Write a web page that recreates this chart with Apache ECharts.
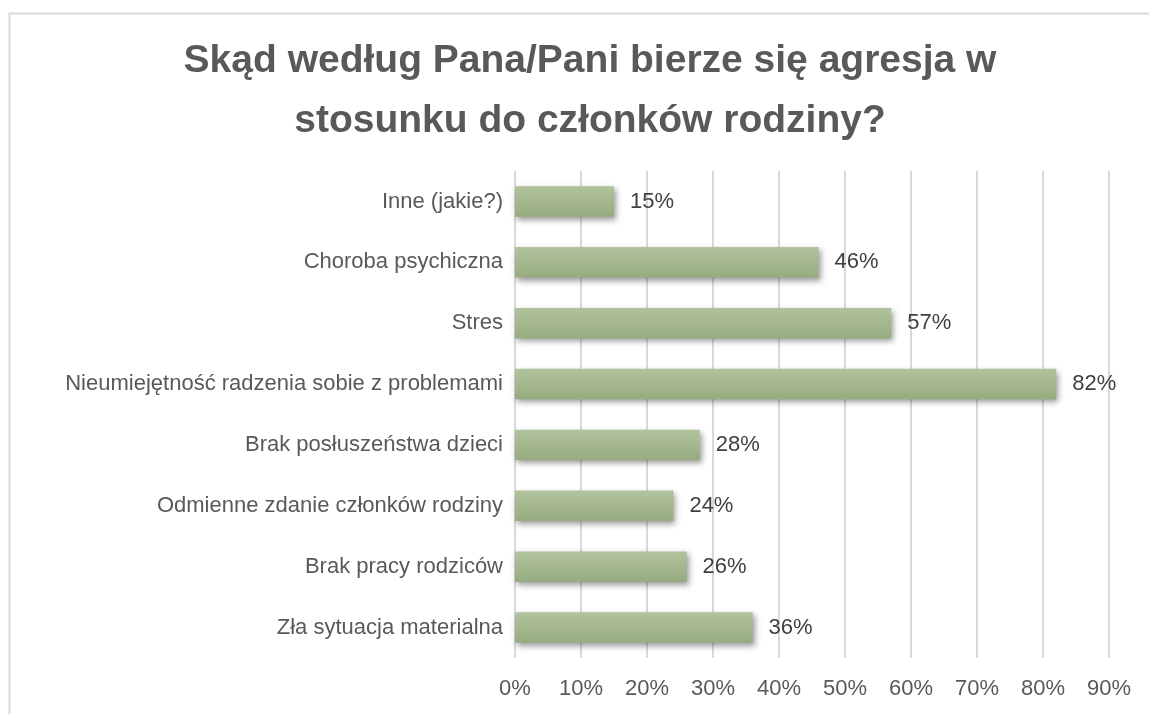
<!DOCTYPE html>
<html>
<head>
<meta charset="utf-8">
<script src="https://cdn.jsdelivr.net/npm/echarts@6/dist/echarts.min.js"></script>
<style>
  html, body { margin: 0; padding: 0; background: #fff; }
  #myChart { width: 1149px; height: 714px; }
</style>
</head>
<body>
<div id="myChart"></div>
<script>
// kategorie od dołu do góry (oś kategorii w ECharts zaczyna się od dołu)
const categories = [
  "Zła sytuacja materialna",
  "Brak pracy rodziców",
  "Odmienne zdanie członków rodziny",
  "Brak posłuszeństwa dzieci",
  "Nieumiejętność radzenia sobie z problemami",
  "Stres",
  "Choroba psychiczna",
  "Inne (jakie?)",
];
const values = [36, 26, 24, 28, 82, 57, 46, 15];
const xTicks = [0, 10, 20, 30, 40, 50, 60, 70, 80, 90];

const chart = echarts.init(document.getElementById("myChart"));
const option = {
  backgroundColor: "#fff",
  textStyle: { fontFamily: "Liberation Sans, Arial, sans-serif" },
  graphic: [
    {
      type: "rect",
      shape: { x: 9.5, y: 13.5, width: 1160, height: 720 },
      style: { fill: "none", stroke: "#d9d9d9", lineWidth: 2 },
      silent: true,
    },
  ],
  title: {
    text: "Skąd według Pana/Pani bierze się agresja w\nstosunku do członków rodziny?",
    left: 585,
    top: 26,
    textAlign: "center",
    textStyle: {
      color: "#595959",
      fontSize: 39,
      fontWeight: "bold",
      lineHeight: 60,
      fontFamily: "Liberation Sans, Arial, sans-serif",
    },
  },
  grid: {
    left: 515,
    right: 40,
    top: 171,
    bottom: 56,
    containLabel: false,
  },
  xAxis: {
    type: "value",
    min: xTicks[0],
    max: xTicks[xTicks.length - 1],
    interval: 10,
    axisLine: { show: false },
    axisTick: { show: false },
    axisLabel: {
      formatter: "{value}%",
      color: "#595959",
      fontSize: 22,
      margin: 20,
    },
    splitLine: {
      show: true,
      lineStyle: { color: "#d9d9d9", width: 2 },
    },
  },
  yAxis: {
    type: "category",
    data: categories,
    axisLine: { show: false },
    axisTick: { show: false },
    axisLabel: {
      color: "#595959",
      fontSize: 22,
      margin: 12,
    },
  },
  series: [
    {
      type: "bar",
      data: values,
      barWidth: "50%",
      itemStyle: {
        color: new echarts.graphic.LinearGradient(0, 0, 0, 1, [
          { offset: 0, color: "#b1c39d" },
          { offset: 1, color: "#97ab80" },
        ]),
        shadowColor: "rgba(0,0,0,0.4)",
        shadowBlur: 6,
        shadowOffsetX: 2,
        shadowOffsetY: 3,
      },
      label: {
        show: true,
        position: "right",
        distance: 16,
        formatter: "{c}%",
        color: "#404040",
        fontSize: 22,
      },
    },
  ],
};
chart.setOption(option);
</script>
</body>
</html>
